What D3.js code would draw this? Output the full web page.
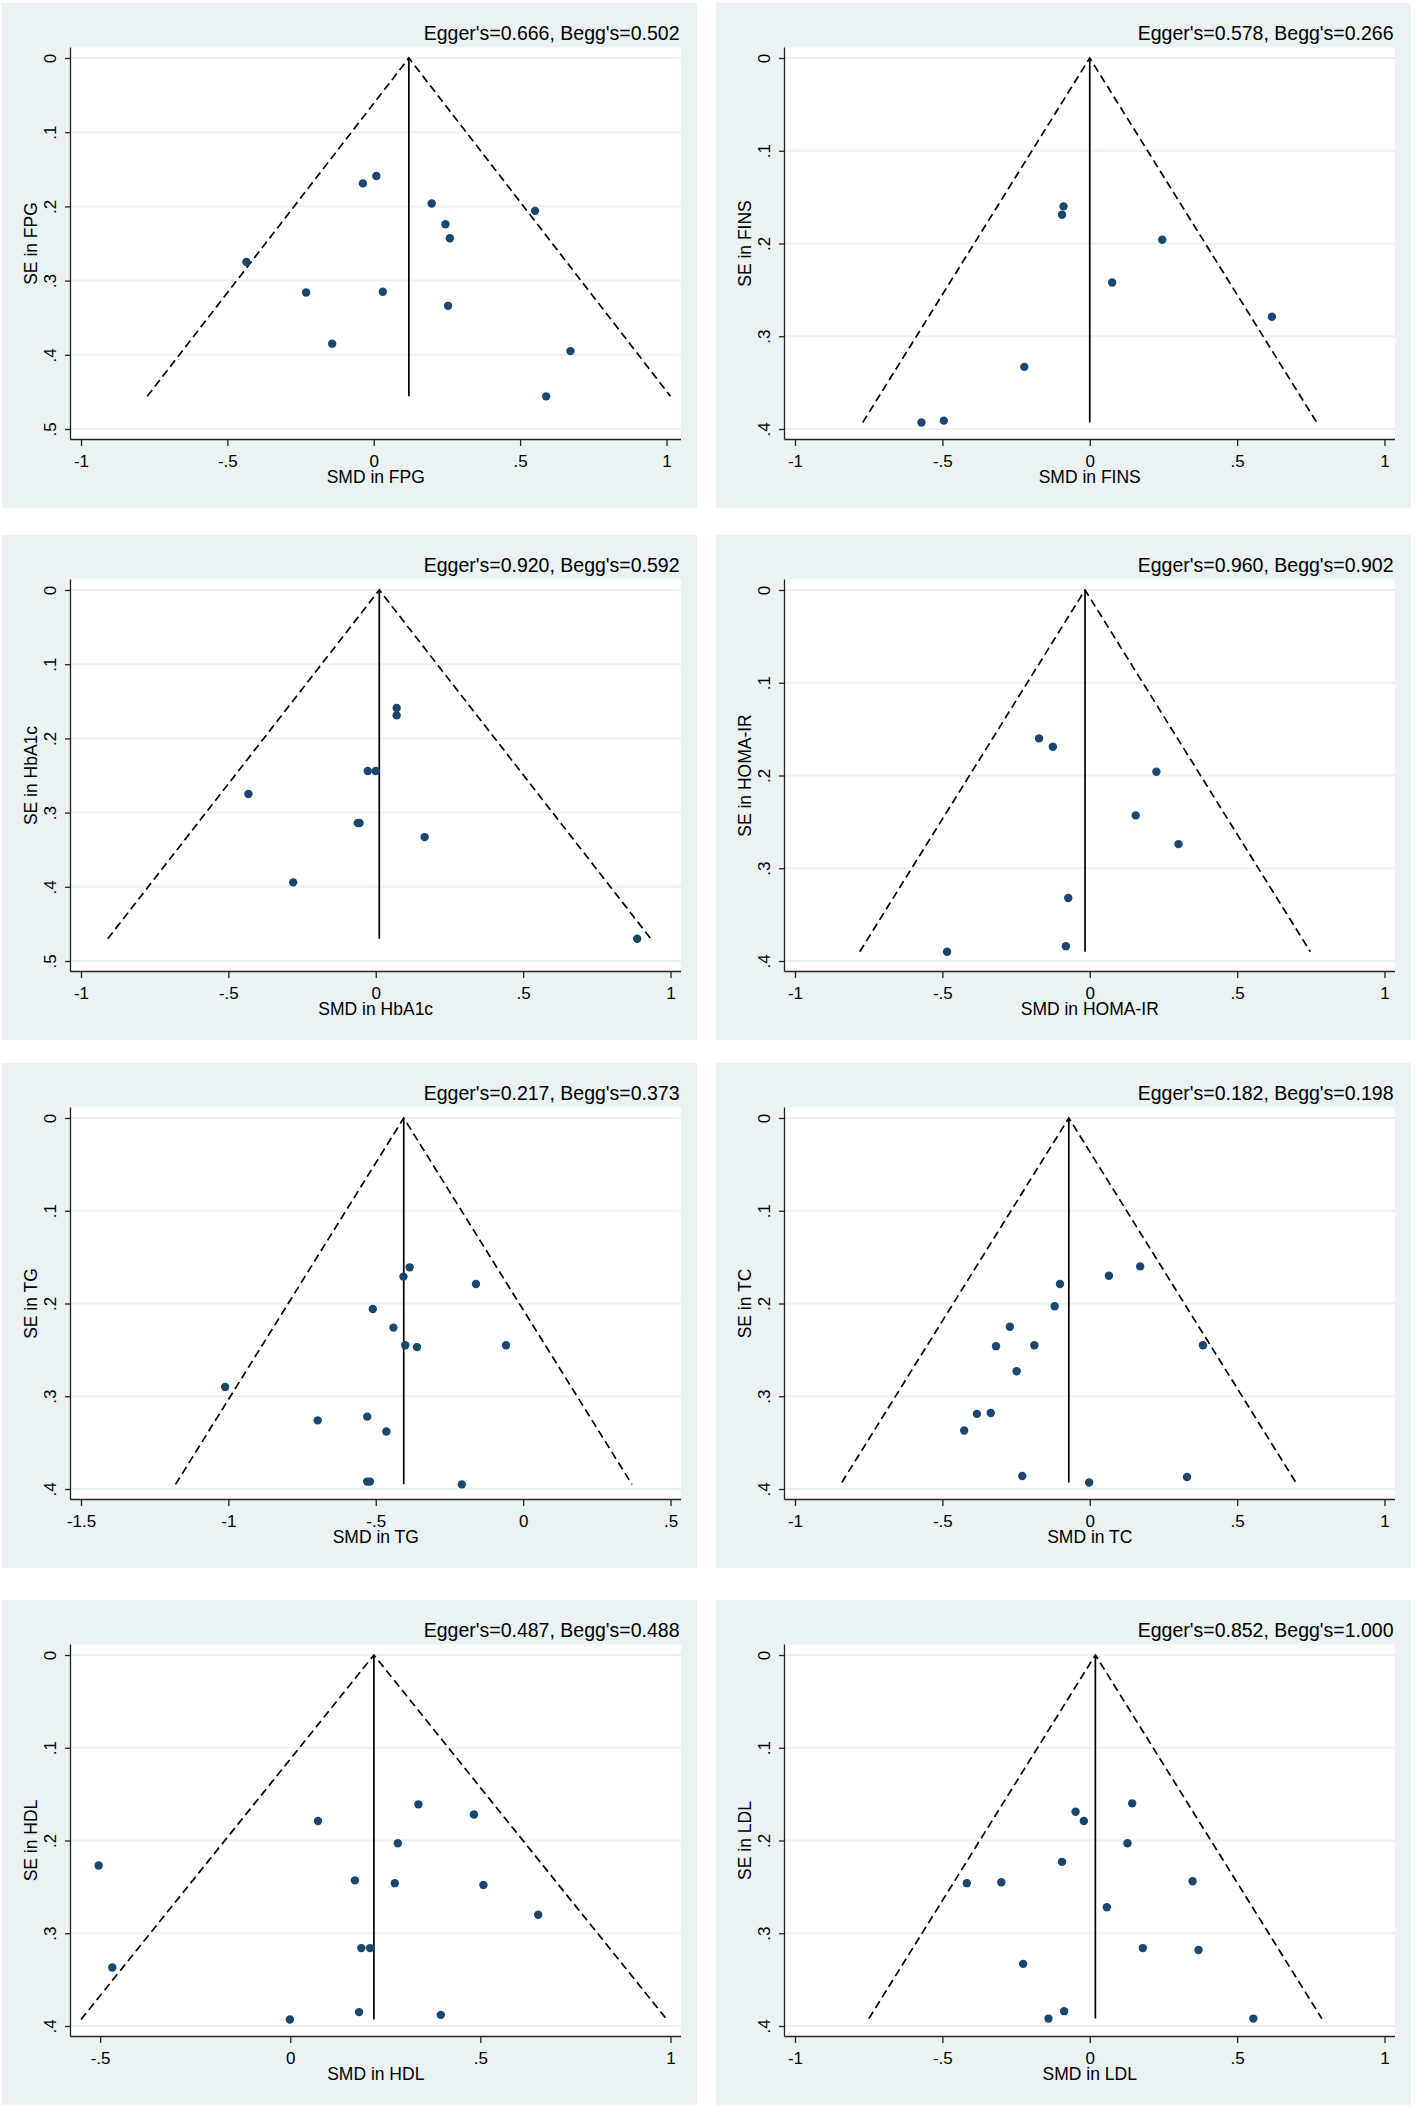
<!DOCTYPE html>
<html>
<head>
<meta charset="utf-8">
<script src="https://cdn.jsdelivr.net/npm/d3@7"></script>
<style>
  html, body { margin: 0; padding: 0; background: #ffffff; }
  svg { display: block; }
  text { font-family: "Liberation Sans", Arial, Helvetica, sans-serif; fill: #000; }
</style>
</head>
<body>
<svg id="chart" width="1418" height="2107"></svg>
<script>
// ---------------- data ----------------
const outcomes = ["FPG", "FINS", "HbA1c", "HOMA-IR", "TG", "TC", "HDL", "LDL"];
const eggerP = ["0.666", "0.578", "0.920", "0.960", "0.217", "0.182", "0.487", "0.852"];
const beggP  = ["0.502", "0.266", "0.592", "0.902", "0.373", "0.198", "0.488", "1.000"];
const pooledSMD = [0.12, 0.0, 0.012, -0.016, -0.405, -0.071, 0.22, 0.019];

const xTicksStd = [-1, -0.5, 0, 0.5, 1];
const xTicksTG  = [-1.5, -1, -0.5, 0, 0.5];
const xTicksHDL = [-0.5, 0, 0.5, 1];
const yTicks5 = [0, 0.1, 0.2, 0.3, 0.4, 0.5];
const yTicks4 = [0, 0.1, 0.2, 0.3, 0.4];

const fpgSMD = [0.009, -0.037, 0.198, 0.551, 0.245, 0.260, -0.435, -0.231, 0.031, 0.254, -0.142, 0.672, 0.589];
const fpgSE  = [0.159, 0.169, 0.196, 0.206, 0.224, 0.243, 0.275, 0.316, 0.315, 0.334, 0.385, 0.395, 0.456];

const finsSMD = [-0.089, -0.094, 0.246, 0.076, 0.618, -0.222, -0.495, -0.571];
const finsSE  = [0.160, 0.169, 0.196, 0.242, 0.279, 0.333, 0.391, 0.393];

const hba1cSMD = [0.071, 0.071, -0.027, 0.000, -0.432, -0.061, -0.055, 0.166, -0.280, 0.887];
const hba1cSE  = [0.159, 0.169, 0.244, 0.244, 0.275, 0.314, 0.314, 0.333, 0.394, 0.470];

const homaSMD = [-0.172, -0.125, 0.226, 0.156, 0.301, -0.073, -0.081, -0.484];
const homaSE  = [0.160, 0.169, 0.196, 0.243, 0.274, 0.332, 0.384, 0.390];

const tgSMD = [-0.385, -0.406, -0.160, -0.510, -0.440, -0.400, -0.360, -0.058, -1.011, -0.529, -0.697, -0.464, -0.529, -0.520, -0.208];
const tgSE  = [0.161, 0.171, 0.179, 0.206, 0.226, 0.245, 0.247, 0.245, 0.290, 0.322, 0.326, 0.338, 0.392, 0.392, 0.395];

const tcSMD = [0.171, 0.065, -0.101, -0.119, -0.271, -0.318, -0.188, 0.384, -0.248, -0.383, -0.336, -0.426, -0.229, -0.002, 0.330];
const tcSE  = [0.160, 0.170, 0.179, 0.203, 0.225, 0.246, 0.245, 0.245, 0.273, 0.319, 0.318, 0.337, 0.386, 0.393, 0.387];

const hdlSMD = [0.337, 0.483, 0.073, 0.283, -0.504, 0.170, 0.275, 0.508, 0.652, 0.187, 0.210, -0.468, 0.181, 0.396, -0.001];
const hdlSE  = [0.161, 0.172, 0.179, 0.203, 0.227, 0.243, 0.246, 0.248, 0.280, 0.316, 0.316, 0.337, 0.385, 0.388, 0.393];

const ldlSMD = [0.144, -0.048, -0.020, 0.128, -0.094, -0.417, -0.300, 0.349, 0.058, 0.180, 0.369, -0.226, -0.087, -0.140, 0.555];
const ldlSE  = [0.160, 0.169, 0.179, 0.203, 0.223, 0.246, 0.245, 0.244, 0.272, 0.316, 0.318, 0.333, 0.384, 0.392, 0.392];

const smdSets = [fpgSMD, finsSMD, hba1cSMD, homaSMD, tgSMD, tcSMD, hdlSMD, ldlSMD];
const seSets  = [fpgSE, finsSE, hba1cSE, homaSE, tgSE, tcSE, hdlSE, ldlSE];
const xTickSets = [xTicksStd, xTicksStd, xTicksStd, xTicksStd, xTicksTG, xTicksStd, xTicksHDL, xTicksStd];
const yTickSets = [yTicks5, yTicks4, yTicks5, yTicks4, yTicks4, yTicks4, yTicks4, yTicks4];

// ---------------- layout ----------------
const colX = [2, 716];
const rowY = [3, 535, 1063, 1600];
const panelW = 695, panelH = 505;
const plotL = 68.5, plotR = 679, plotT = 44.5, plotB = 436.5, pad = 10.5;

const BG = "#eaf2f3";
const NAVY = "#1a476f";

const fmt = v => {
  if (v === 0) return "0";
  let s = String(+v.toFixed(2));
  return s.replace(/^(-?)0\./, "$1.");
};

const svg = d3.select("#chart");

outcomes.forEach((name, i) => {
  const smd = smdSets[i], se = seSets[i];
  const xt = xTickSets[i], yt = yTickSets[i];
  const pooled = pooledSMD[i];
  const seMax = d3.max(se);
  const lo = pooled - 1.96 * seMax, hi = pooled + 1.96 * seMax;

  const xMin = Math.min(xt[0], lo, d3.min(smd));
  const xMax = Math.max(xt[xt.length - 1], hi, d3.max(smd));
  const yMax = Math.max(yt[yt.length - 1], seMax);

  const x = d3.scaleLinear().domain([xMin, xMax]).range([plotL + pad, plotR - pad]);
  const y = d3.scaleLinear().domain([0, yMax]).range([plotT + pad, plotB - pad]);

  const g = svg.append("g")
    .attr("transform", `translate(${colX[i % 2]},${rowY[Math.floor(i / 2)]})`);

  g.append("rect").attr("x", 0).attr("y", 0).attr("width", panelW).attr("height", panelH).attr("fill", BG);
  g.append("rect").attr("x", plotL).attr("y", plotT).attr("width", plotR - plotL).attr("height", plotB - plotT).attr("fill", "#ffffff");

  // gridlines
  g.append("g").selectAll("line").data(yt).join("line")
    .attr("x1", plotL).attr("x2", plotR)
    .attr("y1", d => y(d)).attr("y2", d => y(d))
    .attr("stroke", BG).attr("stroke-width", 2);

  // funnel
  const fun = g.append("g").attr("fill", "none").attr("stroke", "#000").attr("stroke-width", 1.7);
  fun.append("line")
    .attr("x1", x(pooled)).attr("y1", y(0)).attr("x2", x(pooled)).attr("y2", y(seMax));
  const line = d3.line().x(d => x(d[0])).y(d => y(d[1]));
  fun.append("path")
    .attr("d", line([[lo, seMax], [pooled, 0], [hi, seMax]]))
    .attr("stroke-dasharray", "8,4.5");

  // points
  g.append("g").selectAll("circle").data(smd.map((v, k) => [v, se[k]])).join("circle")
    .attr("cx", d => x(d[0])).attr("cy", d => y(d[1])).attr("r", 4.2)
    .attr("fill", NAVY);

  // axes lines
  g.append("line").attr("x1", plotL).attr("x2", plotL).attr("y1", plotT).attr("y2", plotB)
    .attr("stroke", "#222").attr("stroke-width", 1.3);
  g.append("line").attr("x1", plotL).attr("x2", plotR).attr("y1", plotB).attr("y2", plotB)
    .attr("stroke", "#222").attr("stroke-width", 1.3);

  // y axis
  const ya = g.append("g").attr("transform", `translate(${plotL},0)`)
    .call(d3.axisLeft(y).tickValues(yt).tickFormat(fmt).tickSize(5.5).tickSizeOuter(0));
  ya.select(".domain").remove();
  ya.selectAll(".tick line").attr("stroke", "#222").attr("stroke-width", 1.3);
  ya.selectAll(".tick text")
    .attr("x", null).attr("dy", null)
    .attr("transform", "translate(-14.5,0) rotate(-90)")
    .attr("text-anchor", "middle")
    .style("font-size", "17px")
    .style("font-family", "'Liberation Sans', Arial, sans-serif")
    .attr("fill", "#000");

  // x axis
  const xa = g.append("g").attr("transform", `translate(0,${plotB})`)
    .call(d3.axisBottom(x).tickValues(xt).tickFormat(fmt).tickSize(6.5).tickSizeOuter(0));
  xa.select(".domain").remove();
  xa.selectAll(".tick line").attr("stroke", "#222").attr("stroke-width", 1.3);
  xa.selectAll(".tick text")
    .attr("y", 27.5).attr("dy", null)
    .style("font-size", "17px")
    .style("font-family", "'Liberation Sans', Arial, sans-serif")
    .attr("fill", "#000");

  // titles
  g.append("text")
    .attr("x", (plotL + plotR) / 2).attr("y", 480)
    .attr("text-anchor", "middle").style("font-size", "17.5px")
    .text(`SMD in ${name}`);
  g.append("text")
    .attr("transform", `translate(35,${(plotT + plotB) / 2}) rotate(-90)`)
    .attr("text-anchor", "middle").style("font-size", "17.5px")
    .text(`SE in ${name}`);
  g.append("text")
    .attr("x", plotR - 1.5).attr("y", 37)
    .attr("text-anchor", "end").style("font-size", "19.5px")
    .text(`Egger's=${eggerP[i]}, Begg's=${beggP[i]}`);
});
</script>
</body>
</html>
